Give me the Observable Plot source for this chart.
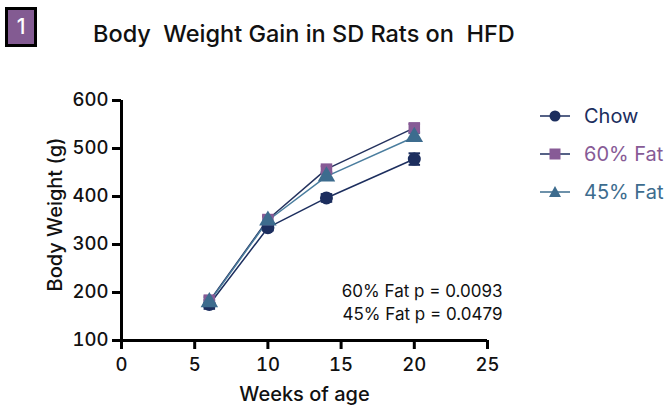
<!DOCTYPE html>
<html><head><meta charset="utf-8">
<script src="https://cdn.jsdelivr.net/npm/d3@7"></script>
<script src="https://cdn.jsdelivr.net/npm/@observablehq/plot@0.6"></script>
<style>
body{margin:0;background:#fff;font-family:Inter,"Noto Sans",sans-serif;}
#wrap{position:relative;width:670px;height:413px;overflow:hidden;}
#badge{position:absolute;left:5px;top:7px;width:26px;height:34px;background:#835b92;border:3px solid #000;color:#fff;font-size:21px;font-weight:500;text-align:center;line-height:34px;}
#title{position:absolute;left:93px;top:19px;font-size:23.5px;font-weight:500;color:#111;white-space:pre;}
#legend{position:absolute;left:540px;top:97px;}
.li{display:flex;align-items:center;height:38px;font-size:20px;}
.li svg{margin-right:14px;}
</style></head><body>
<div id="wrap">
<div id="badge">1</div>
<div id="title">Body  Weight Gain in SD Rats on  HFD</div>
<div id="chart"></div>
<div id="legend"></div>
</div>
<script>
const weeks = [6, 10, 14, 20];
const groups = ["Chow", "60% Fat", "45% Fat"];
const chow = [175, 335, 397, 478];
const chowErr = [9, 6, 8, 12];
const fat60 = [182, 352, 457, 543];
const fat60Err = [12, 8, 6, 8];
const fat45 = [180, 350, 442, 524];
const fat45Err = [10, 8, 7, 8];
const xTicks = [0, 5, 10, 15, 20, 25];
const yTicks = [100, 200, 300, 400, 500, 600];
const pLabels = ["60% Fat p = 0.0093", "45% Fat p = 0.0479"];
const pLabelY = [202, 154];

const markColor = {"Chow": "#1c2e5e", "60% Fat": "#875b96", "45% Fat": "#3d6c8e"};
const lineColor = {"Chow": "#1c2e5e", "60% Fat": "#24325e", "45% Fat": "#4a7d9e"};
const symbolOf = {"Chow": "circle", "60% Fat": "square", "45% Fat": "triangle"};

const series = [chow, fat60, fat45];
const errs = [chowErr, fat60Err, fat45Err];
const data = [];
groups.forEach((g, gi) => weeks.forEach((w, i) => data.push({group: g, week: w, value: series[gi][i], err: errs[gi][i]})));
const pData = pLabels.map((t, i) => ({text: t, y: pLabelY[i]}));

const cap = {draw(ctx, size) { const w = Math.sqrt(size) / 2; ctx.moveTo(-w, 0); ctx.lineTo(w, 0); }};

const plot = Plot.plot({
  width: 670, height: 413,
  marginLeft: 121, marginRight: 183, marginTop: 100, marginBottom: 73,
  style: {fontFamily: "Inter, 'Noto Sans', sans-serif", background: "transparent", overflow: "visible"},
  x: {domain: [0, 25], ticks: xTicks, label: null},
  y: {domain: [100, 600], ticks: yTicks, label: null},
  marks: [
    Plot.line(data, {x: "week", y: "value", z: "group", stroke: d => lineColor[d.group], strokeWidth: 1.5}),
    Plot.ruleX(data, {x: "week", y1: d => d.value - d.err, y2: d => d.value + d.err, stroke: d => markColor[d.group], strokeWidth: 1.5}),
    Plot.dot(data, {x: "week", y: d => d.value - d.err, symbol: () => cap, r: 6.5, stroke: d => markColor[d.group], strokeWidth: 2, fill: "none"}),
    Plot.dot(data, {x: "week", y: d => d.value + d.err, symbol: () => cap, r: 6.5, stroke: d => markColor[d.group], strokeWidth: 2, fill: "none"}),
    Plot.dot(data, {x: "week", y: "value", symbol: d => symbolOf[d.group], r: 6.5, fill: d => markColor[d.group], stroke: "none"}),
    Plot.ruleX([0], {stroke: "#000", strokeWidth: 3}),
    Plot.ruleY([100], {stroke: "#000", strokeWidth: 3}),
    Plot.axisX({ticks: xTicks, tickSize: 9, tickPadding: 8, fontSize: 18.5, fontWeight: 500, stroke: "#000", strokeWidth: 3, fill: "#111", label: null}),
    Plot.axisY({ticks: yTicks, tickSize: 9, tickPadding: 4, fontSize: 18.5, fontWeight: 500, stroke: "#000", strokeWidth: 3, fill: "#111", label: null}),
    Plot.text(pData, {x: 25, y: "y", text: "text", textAnchor: "end", dx: 15, fontSize: 17, fill: "#111"}),
    Plot.text(["Weeks of age"], {frameAnchor: "bottom", dy: 60, fontSize: 20, fontWeight: 500, fill: "#111"}),
    Plot.text(["Body Weight (g)"], {frameAnchor: "left", textAnchor: "middle", dx: -66, dy: -6, rotate: -90, fontSize: 20, fontWeight: 500, fill: "#111"})
  ]
});
document.getElementById("chart").appendChild(plot);

const legend = document.getElementById("legend");
const shapes = {
  "Chow": `<circle cx="15" cy="8" r="5.5" fill="${markColor.Chow}"/>`,
  "60% Fat": `<rect x="9.5" y="2.5" width="11" height="11" fill="${markColor["60% Fat"]}"/>`,
  "45% Fat": `<path d="M15,2 L21,13 L9,13 Z" fill="${markColor["45% Fat"]}"/>`
};
groups.forEach(g => {
  const div = document.createElement("div");
  div.className = "li";
  const lc = g === "45% Fat" ? markColor[g] : "#1c2e5e";
  div.innerHTML = `<svg width="30" height="16"><line x1="0" y1="8" x2="30" y2="8" stroke="${lc}" stroke-width="1.5"/>${shapes[g]}</svg><span style="color:${markColor[g]}">${g}</span>`;
  legend.appendChild(div);
});
</script>
</body></html>
